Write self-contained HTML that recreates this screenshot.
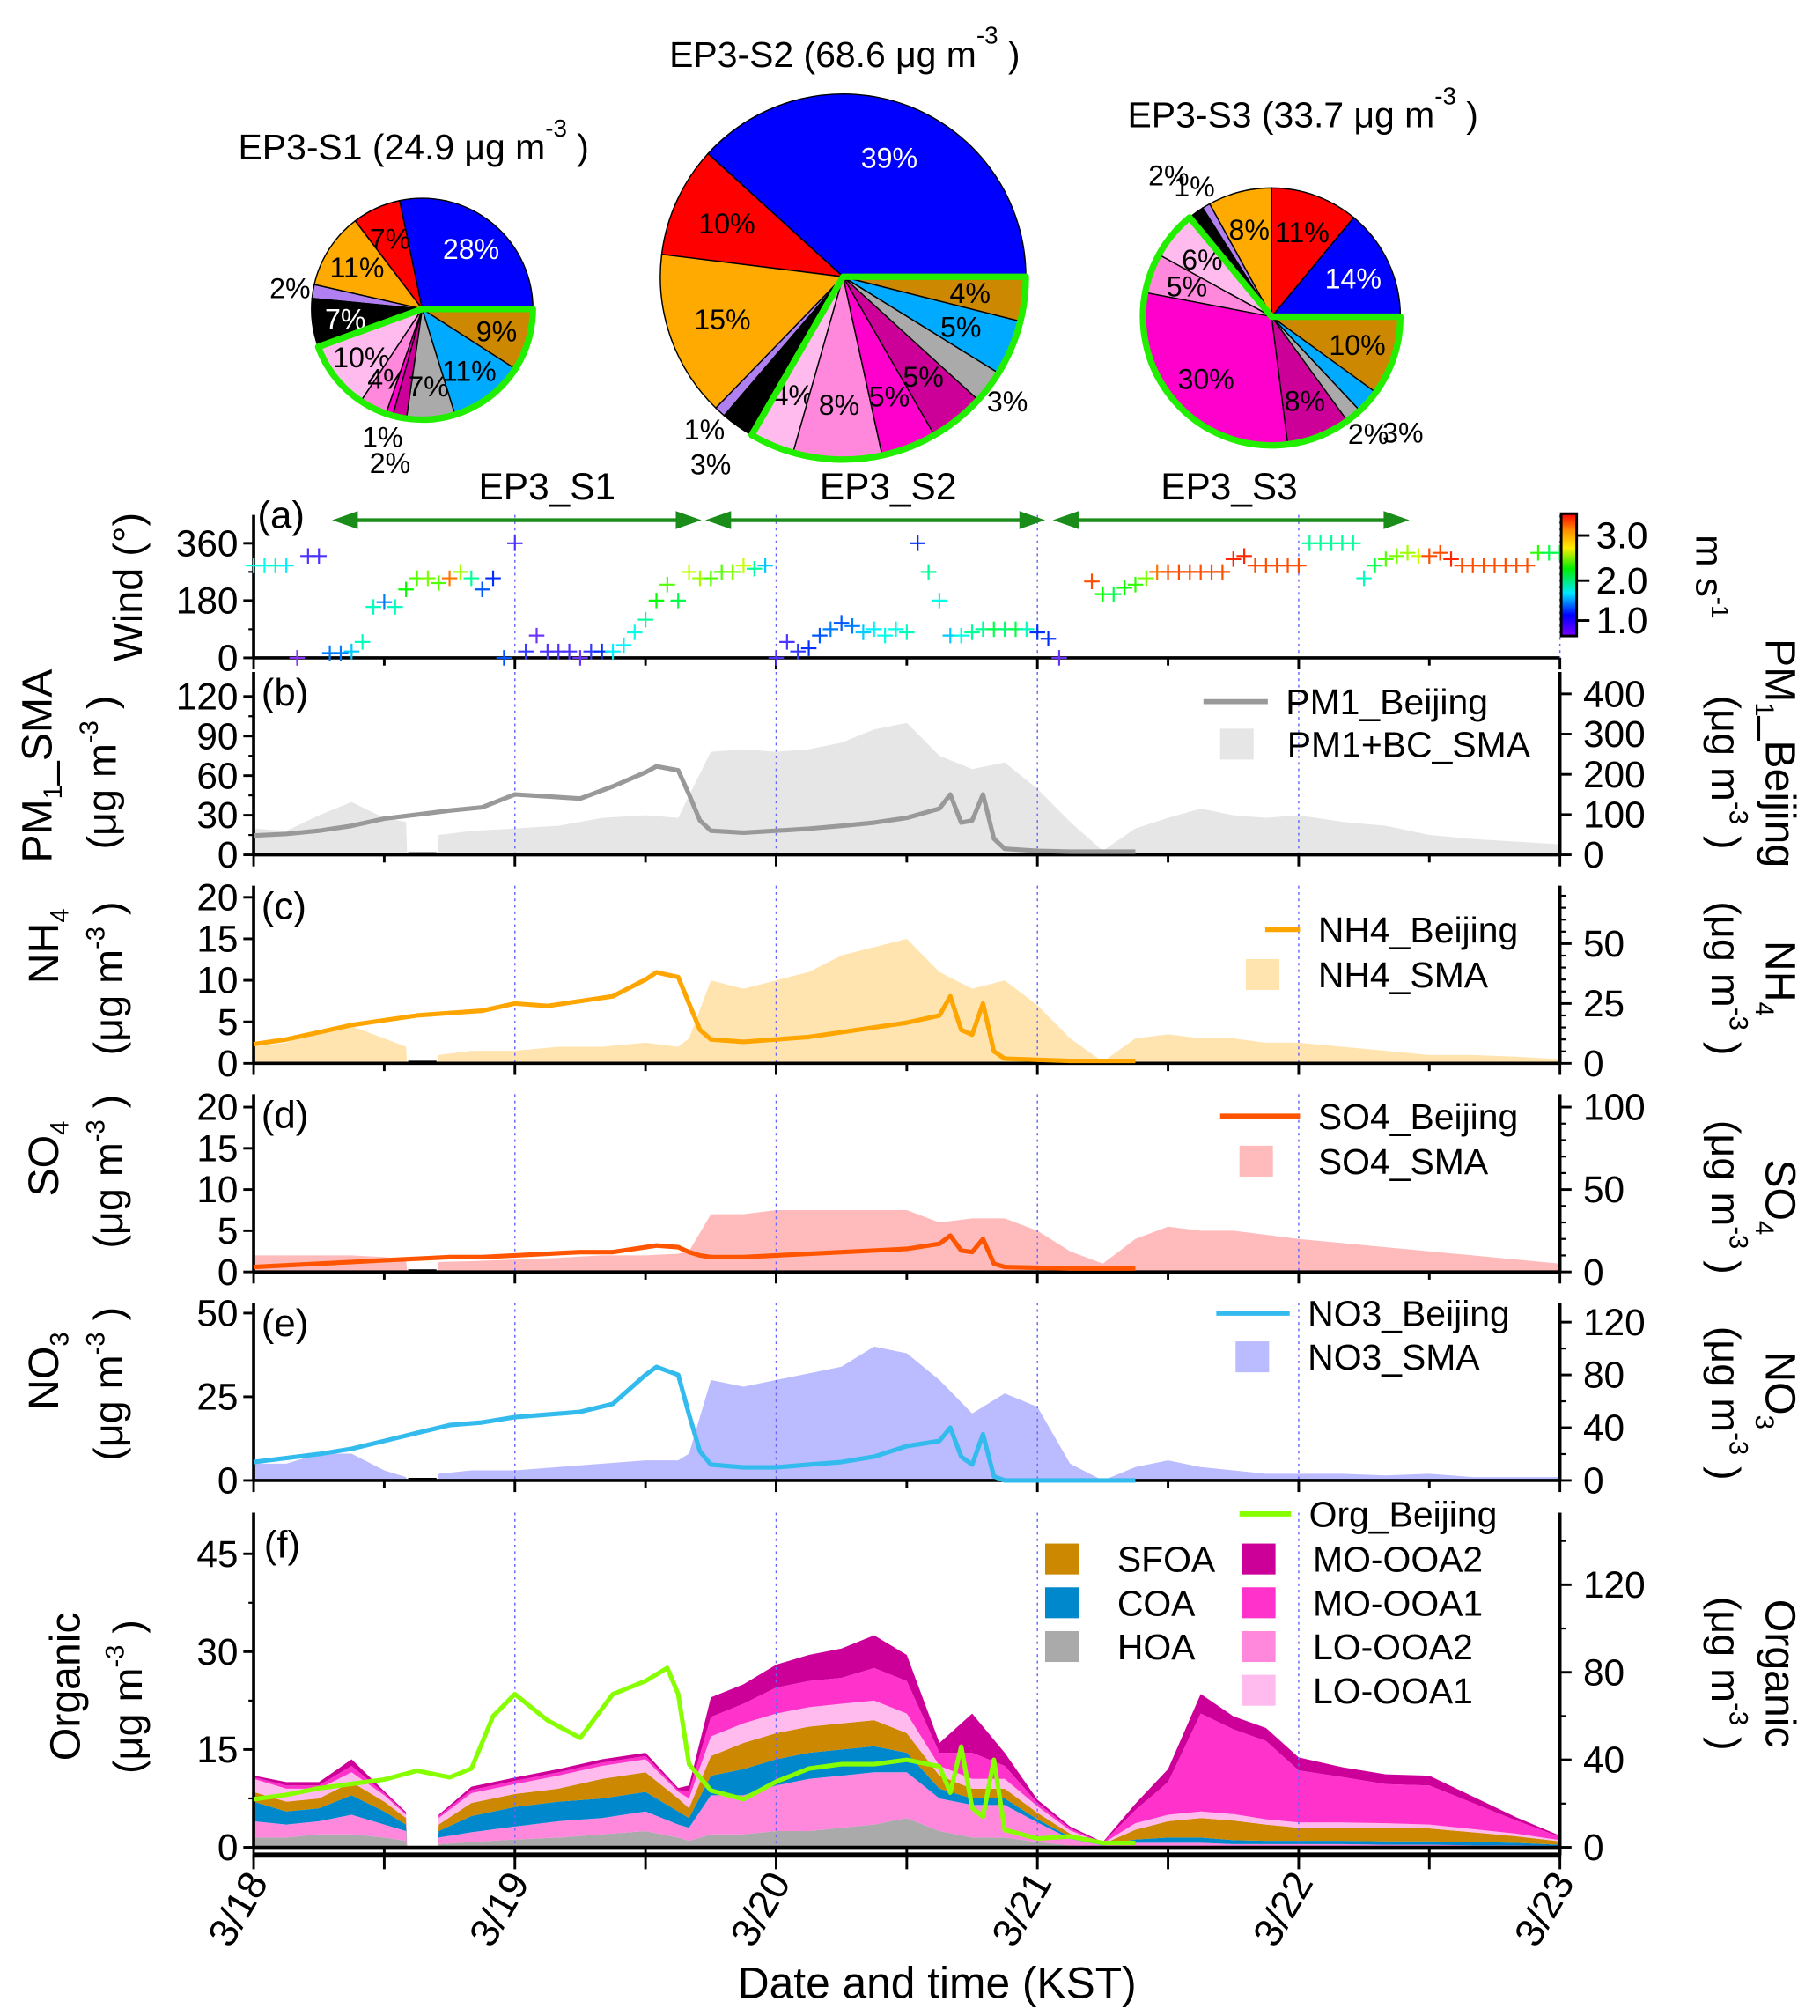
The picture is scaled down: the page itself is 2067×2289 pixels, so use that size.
<!DOCTYPE html>
<html><head><meta charset="utf-8">
<style>
html,body{margin:0;padding:0;background:#fff;}
svg{display:block;font-family:"Liberation Sans",Arial,sans-serif;}
</style></head>
<body>
<svg id="fig" width="2067" height="2289" viewBox="0 0 1414 1566" xmlns="http://www.w3.org/2000/svg">
<g id="pies"></g>
<g id="plots"></g>
<text x="728" y="1552" font-size="34" text-anchor="middle">Date and time (KST)</text>
</svg>
<script>
// ---------- PIE DATA ----------
const pieNames = ["EP3-S1","EP3-S2","EP3-S3"];
const pieTotals = ["24.9","68.6","33.7"];
const pieS1 = [28,7,11,2,7,10,4,1,2,7,11,9];
const pieS2 = [39,10,15,1,3,4,8,5,5,3,5,4];
const pieS3 = [14,11,8,1,2,6,5,30,8,2,3,10];
// ---------- TIME SERIES DATA (hours since 3/18 00:00) ----------
const smaHours = [0,3,6,9,12,14,14.1,16.9,17,20,24,28,32,36,39,40,42,45,48,51,54,57,60,63,66,69,72,75,78,81,84,87,90,93,96,100,104,108,112,116,120];
const pmSMA  = [20,18,30,40,28,25,0,0,15,18,20,22,28,30,28,45,78,80,78,80,85,95,100,75,65,70,50,25,3,20,28,35,30,28,30,25,22,15,12,10,8];
const nh4SMA = [2,2.5,4,4.5,3,2,0,0,1,1.5,1.5,2,2,2.5,2,3,10,9,10,11,13,14,15,11,9,10,7,3,0.2,3,3.5,3,3,2.5,2.5,2,1.5,1,1,0.8,0.5];
const so4SMA = [2,2,2,2,1.8,1.5,0,0,1.2,1.3,1.5,1.7,2,2,2.2,2.5,7,7,7.5,7.5,7.5,7.5,7.5,6,6.5,6.5,5,2.5,1,4,5.5,5,5,4.5,4,3.5,3,2.5,2,1.5,1];
const no3SMA = [5,5,8,8,3,1,0,0,2,3,3,4,5,6,6,8,30,28,30,32,34,40,38,30,20,26,22,5,0,4,6,4,3,2,2,2,1.5,2,1,1,1];
const orgHOA = [1.5,1.5,2,2,1.5,1,0,0,0.5,0.8,1.2,1.5,2,2.5,1.5,1,2,2,2.5,2.5,3,3.5,4.5,2.5,1.5,1.5,0.8,0.3,0.1,0.2,0.2,0.2,0.2,0.2,0.2,0.2,0.1,0.1,0.1,0.1,0.1];
const orgLO2 = [2.5,2,2,3,2,1.5,0,0,1,1.5,2,2.5,2.5,3,2,2,6,6,7,8,8,8,7,5,5,5,3,1,0.2,0.5,0.5,0.5,0.3,0.3,0.3,0.3,0.3,0.3,0.2,0.2,0.1];
const orgCOA = [3,2,2,3,2,1,0,0,1,2.5,3,3,3,3,2,1.5,3,4,4,4,4,4,3,1.5,1,1,0.5,0.3,0.1,0.5,0.8,0.8,0.6,0.5,0.5,0.5,0.5,0.5,0.5,0.4,0.2];
const orgSFOA= [1.5,1.5,1.5,2,1.5,1,0,0,1,2,2,2,3,3,2,1.5,3,4,4,4,4,4,3,2,1.5,1.5,1,0.5,0.1,1.5,2.5,3,3,2.5,2,2,2,2,1.5,1,0.5];
const orgLO1 = [2,2,1.5,1.5,1,0.5,0,0,1,1.5,1.5,2,2,2,1,1.5,3,3,3,3,3,3,3,1.5,1.5,1.5,1,0.5,0.1,1,1,1,1,0.8,0.8,0.8,0.8,0.6,0.5,0.4,0.2];
const orgMO1 = [0.3,0.5,0.5,1,0.3,0.2,0,0,0.3,0.5,0.5,0.5,0.5,0.5,0.3,1,3,3,4,4,4,5,5,2,4,2,0.5,0.3,0.1,2,5,15,13,12,8,7,6,6,4,2,0.5];
const orgMO2 = [0.2,0.5,0.5,1,0.3,0.2,0,0,0.2,0.5,0.5,0.5,0.5,0.5,0.3,1,3,3,3.5,4,4.5,5,4,1.5,6,2,0.5,0.3,0.1,1,2,3,2,2,2,1.5,1.5,1.5,1,0.5,0.2];
const bjHours = [0,3,6,9,12,15,18,21,24,27,30,33,36,37,39,40,41,42,45,48,51,54,57,60,63,64,65,66,67,68,69,72,75,78,81];
const pmBJ  = [48,52,60,72,90,100,110,118,150,145,140,170,205,220,210,150,85,60,55,60,65,72,80,92,115,150,80,85,150,40,15,10,8,8,8];
const nh4BJ = [8,10,13,16,18,20,21,22,25,24,26,28,35,38,36,25,14,10,9,10,11,13,15,17,20,28,14,12,25,5,2,1.5,1,1,1];
const so4BJ = [3,4,5,6,7,8,9,9,10,11,12,12,15,16,15,12,10,9,9,10,11,12,13,14,17,22,13,12,20,5,3,2.5,2,2,2];
const no3BJ = [14,17,20,24,30,36,42,44,48,50,52,58,80,86,80,50,22,12,10,10,12,14,18,26,30,40,18,12,35,3,0,0,0,0,0];
const orgHours = [0,3,6,9,12,15,18,20,22,24,27,30,33,36,38,39,40,42,45,48,51,54,57,60,63,64,65,66,67,68,69,72,75,78,81];
const orgBJ = [22,24,27,29,31,35,32,36,60,70,58,50,70,76,82,70,38,26,22,30,36,38,38,40,37,25,46,18,14,40,8,4,5,2,2];
const windHours = [0,1,2,3,4,5,6,7,8,9,10,11,12,13,14,15,16,17,18,19,20,21,22,23,24,25,26,27,28,29,30,31,32,33,34,35,36,37,38,39,40,41,42,43,44,45,46,47,48,49,50,51,52,53,54,55,56,57,58,59,60,61,62,63,64,65,66,67,68,69,70,71,72,73,74,77,78,79,80,81,82,83,84,85,86,87,88,89,90,91,92,93,94,95,96,97,98,99,100,101,102,103,104,105,106,107,108,109,110,111,112,113,114,115,116,117,118,119,120];
const windDir = [290,290,290,290,0,320,320,15,15,20,50,160,175,160,215,250,250,235,250,270,250,215,250,0,360,20,70,20,20,20,0,20,20,20,40,80,120,180,230,180,270,250,250,270,270,290,280,290,0,50,20,30,70,90,110,100,80,90,70,90,80,360,270,180,70,70,80,90,90,90,90,90,80,60,0,240,200,200,220,230,250,270,270,270,270,270,270,270,310,320,290,290,290,290,290,360,360,360,360,360,250,290,310,320,330,320,320,330,310,290,290,290,290,290,290,290,330,330,330];
const windSpd = [1.6,1.6,1.7,1.5,0.6,0.8,0.8,1.2,1.2,1.4,1.7,1.7,1.2,1.7,2.2,2.4,2.5,2.4,3.2,2.6,1.8,1.1,1.0,1.1,0.8,0.9,0.7,0.8,0.8,0.8,0.7,0.9,1.0,1.5,1.5,1.6,1.8,2.2,2.4,2.0,2.7,2.6,2.4,2.4,2.5,2.7,1.8,1.4,0.8,0.8,0.9,1.0,1.1,1.2,1.1,1.2,1.4,1.5,1.6,1.6,1.7,1.0,1.8,1.6,1.4,1.6,1.8,1.8,2.0,1.9,2.0,1.7,1.0,1.0,0.7,3.3,2.2,2.0,2.2,2.3,2.5,3.2,3.3,3.3,3.3,3.3,3.3,3.3,3.4,3.4,3.3,3.3,3.3,3.3,3.3,1.8,1.8,1.8,1.8,1.8,1.7,2.0,2.4,2.5,2.6,2.7,3.3,3.3,3.4,3.3,3.3,3.3,3.3,3.3,3.3,3.3,2.3,2.0,2.0];
const dayLabels = ["3/18","3/19","3/20","3/21","3/22","3/23"];

// ---------- helpers ----------
const NS="http://www.w3.org/2000/svg";
function mk(parent,tag,attrs,text){const e=document.createElementNS(NS,tag);for(const k in attrs)e.setAttribute(k,attrs[k]);if(text!==undefined)e.textContent=text;parent.appendChild(e);return e;}
const X0=197,X1=1212,HMAX=120;
const xS=h=>X0+(X1-X0)*h/HMAX;

// ---------- PIES ----------
const pieColors=["#0000ff","#ff0000","#ffaa00","#b080f0","#000000","#ffbbee","#ff88dd","#ff00cc","#cc0099","#aaaaaa","#00aaff","#cc8800"];
const piesG=document.getElementById('pies');
function drawPie(idx,vals,cx,cy,r,tx,ty){
  const g=mk(piesG,'g',{});
  
  
  const t=mk(g,'text',{x:tx,y:ty,'font-size':28});
  
  
  t.textContent=pieNames[idx]+" ("+pieTotals[idx]+" μg m";
  mk(t,'tspan',{dy:-18,'font-size':19},'-3');
  mk(t,'tspan',{dy:18},' )');
  const tot=vals.reduce((a,b)=>a+b,0);
  let a=0; const pt=(ang,rr)=>[cx+rr*Math.cos(ang),cy-rr*Math.sin(ang)];
  let orgStart=0; let prevSmall=false;
  vals.forEach((v,i)=>{
    const a2=a+2*Math.PI*v/tot;
    if(i===5) orgStart=a;
    const p1=pt(a,r),p2=pt(a2,r);const large=(a2-a)>Math.PI?1:0;
    const s=mk(g,'path',{d:`M${cx},${cy}L${p1[0]},${p1[1]}A${r},${r} 0 ${large} 0 ${p2[0]},${p2[1]}Z`,fill:pieColors[i],stroke:'#000','stroke-width':1});
    
    
    const mid=(a+a2)/2;
    let rr;
    if(v>=4){rr=0.7*r;prevSmall=false;}
    else{rr=prevSmall?r+36:r+18;prevSmall=!prevSmall;}
    const lp=pt(mid,rr);
    const lt=mk(g,'text',{x:lp[0],y:lp[1]+8,'font-size':22,'text-anchor':'middle',fill:(v>=4&&(i===0||i===4))?'#fff':'#000'},v+'%');
    
    
    a=a2;
  });
  const p1=pt(orgStart,r),p2=pt(2*Math.PI,r);const large=(2*Math.PI-orgStart)>Math.PI?1:0;
  const gr=mk(g,'path',{d:`M${cx},${cy}L${p1[0]},${p1[1]}A${r},${r} 0 ${large} 0 ${p2[0]},${p2[1]}Z`,fill:'none',stroke:'#22ee00','stroke-width':5,'stroke-linejoin':'round'});
  
  
}
drawPie(0,pieS1,328,240,86,185,124);
drawPie(1,pieS2,655,215,142,520,52);
drawPie(2,pieS3,988,246,100,876,99);

// ---------- PANELS ----------
const P=document.getElementById('plots');
function linePath(hrs,vals,y0,k){return hrs.map((h,i)=>(i?'L':'M')+xS(h).toFixed(1)+','+(y0-vals[i]*k).toFixed(1)).join('');}
function areaPath(hrs,lo,hi,y0,k){let d='M'+xS(hrs[0])+','+(y0-hi[0]*k);for(let i=1;i<hrs.length;i++)d+='L'+xS(hrs[i]).toFixed(1)+','+(y0-hi[i]*k).toFixed(1);for(let i=hrs.length-1;i>=0;i--)d+='L'+xS(hrs[i]).toFixed(1)+','+(y0-lo[i]*k).toFixed(1);return d+'Z';}
function frame(g,y0,top,leftTicks,kL,rightTicks,kR,lminor,rminor){
  for(let d=1;d<5;d++){mk(g,'line',{x1:xS(d*24),x2:xS(d*24),y1:top,y2:y0,stroke:'#6666ff','stroke-width':1,'stroke-dasharray':'2,3'});}
  mk(g,'line',{x1:X0,x2:X1,y1:y0,y2:y0,stroke:'#000','stroke-width':2.5});
  mk(g,'line',{x1:X0,x2:X0,y1:top,y2:y0,stroke:'#000','stroke-width':2.5});
  if(rightTicks) mk(g,'line',{x1:X1,x2:X1,y1:top,y2:y0,stroke:'#000','stroke-width':2.5});
  for(let h=0;h<=120;h+=12) mk(g,'line',{x1:xS(h),x2:xS(h),y1:y0,y2:y0+(h%24?6:9),stroke:'#000','stroke-width':2});
  leftTicks.forEach(v=>{const y=y0-v*kL;mk(g,'line',{x1:X0-8,x2:X0,y1:y,y2:y,stroke:'#000','stroke-width':2});
    const t=mk(g,'text',{x:X0-12,y:y+10,'font-size':29,'text-anchor':'end'},String(v));});
  if(lminor) for(let v=0;v<=leftTicks[leftTicks.length-1];v+=lminor) mk(g,'line',{x1:X0-4,x2:X0,y1:y0-v*kL,y2:y0-v*kL,stroke:'#000','stroke-width':1.5});
  if(rightTicks){rightTicks.forEach(v=>{const y=y0-v*kR;mk(g,'line',{x1:X1,x2:X1+9,y1:y,y2:y,stroke:'#000','stroke-width':2});
    const t=mk(g,'text',{x:X1+18,y:y+10,'font-size':29},String(v));});
    if(rminor) for(let v=0;v*kR<=y0-top;v+=rminor) mk(g,'line',{x1:X1,x2:X1+5,y1:y0-v*kR,y2:y0-v*kR,stroke:'#000','stroke-width':1.5});}
}
function vtext(g,x,y,txt,rot,size,name){const t=mk(g,'text',{x:x,y:y,'font-size':size||30,'text-anchor':'middle',transform:`rotate(${rot||-90} ${x} ${y})`});t.innerHTML=txt;return t;}
const UG='(μg m<tspan dy="-14" font-size="20">-3</tspan><tspan dy="14"> )</tspan>';
function legLine(g,x1,x2,y,col,txt){mk(g,'line',{x1:x1,x2:x2,y1:y,y2:y,stroke:col,'stroke-width':4});const t=mk(g,'text',{x:x2+14,y:y+10,'font-size':28},txt);}
function legBox(g,x,y,col,txt,tx){mk(g,'rect',{x:x,y:y-12,width:26,height:24,fill:col});const t=mk(g,'text',{x:tx,y:y+10,'font-size':28},txt);}
function plabel(g,x,y,s){const t=mk(g,'text',{x:x,y:y,'font-size':30},s);}

// (a) wind
(function(){
  const g=mk(P,'g',{});
  const y0=511,k=89/360;
  frame(g,y0,400,[0,180,360],k,null,0,90,0);
  mk(g,'line',{x1:X1,x2:X1,y1:400,y2:y0,stroke:'#6666ff','stroke-width':1,'stroke-dasharray':'2,3'});
  const col=s=>{let t=Math.max(0,Math.min(1,(s-0.5)/3));return `hsl(${(1-t)*275},100%,${t<0.15?60:50}%)`;};
  windHours.forEach((h,i)=>{const x=xS(h),y=y0-windDir[i]*k;
    const p=mk(g,'path',{d:`M${x-6},${y}H${x+6}M${x},${y-6}V${y+6}`,stroke:col(windSpd[i]),'stroke-width':1.5});
    
    });
  plabel(g,200,410,'(a)');
  vtext(g,110,456,'Wind (°)',-90,32,'wind-axis-title');
  const eps=[[258,545,'EP3_S1',425],[548,812,'EP3_S2',690],[818,1095,'EP3_S3',955]];
  eps.forEach(e=>{const a=mk(g,'g',{});
    mk(a,'line',{x1:e[0]+14,x2:e[1]-14,y1:404,y2:404,stroke:'#1a8c1a','stroke-width':3});
    mk(a,'path',{d:`M${e[0]},404l20,-7v14z M${e[1]},404l-20,-7v14z`,fill:'#1a8c1a'});
    mk(a,'text',{x:e[3],y:388,'font-size':29,'text-anchor':'middle'},e[2]);});
  const cb=mk(g,'g',{});
  const defs=mk(cb,'defs',{});const lg=mk(defs,'linearGradient',{id:'rb',x1:0,y1:1,x2:0,y2:0});
  [[0,'#7a00ff'],[0.17,'#0000ff'],[0.35,'#00e8ff'],[0.55,'#00ee00'],[0.72,'#ffee00'],[0.87,'#ff8800'],[1,'#ff0000']].forEach(s=>mk(lg,'stop',{offset:s[0],'stop-color':s[1]}));
  mk(cb,'rect',{x:1213,y:399,width:12,height:95,fill:'url(#rb)',stroke:'#000','stroke-width':2});
  [[3.0,416],[2.0,451],[1.0,482]].forEach(t=>{mk(cb,'line',{x1:1225,x2:1235,y1:t[1],y2:t[1],stroke:'#000','stroke-width':2});mk(cb,'text',{x:1240,y:t[1]+10,'font-size':29},t[0].toFixed(1));});
  vtext(cb,1318,448,'m s<tspan dy="-12" font-size="19">-1</tspan>',90,30,'colorbar-title');
})();

function chemPanel(o){
  const g=mk(P,'g',{});
  mk(g,'path',{d:areaPath(smaHours,smaHours.map(()=>0),o.sma,o.y0,o.kL),fill:o.fill});
  frame(g,o.y0,o.top,o.lt,o.kL,o.rt,o.kR,o.lmin,o.rmin);
  const ln=mk(g,'path',{d:linePath(bjHours,o.bj,o.y0,o.kR),fill:'none',stroke:o.line,'stroke-width':3.5,'stroke-linejoin':'round'});
  
  
  mk(g,'line',{x1:xS(14.2),x2:xS(16.8),y1:o.y0-1,y2:o.y0-1,stroke:'#000','stroke-width':2});
  plabel(g,203,o.top+26,o.lab);
  return g;
}
let g=chemPanel({name:'panel-b-pm1',y0:664,top:522,sma:pmSMA,bj:pmBJ,kL:123/120,kR:125/400,lt:[0,30,60,90,120],rt:[0,100,200,300,400],lmin:15,rmin:0,fill:'#e6e6e6',line:'#999999',lab:'(b)'});
legLine(g,935,985,545,'#999999','PM1_Beijing');legBox(g,948,578,'#e6e6e6','PM1+BC_SMA',1000);
vtext(g,40,595,'PM<tspan dy="8" font-size="20">1</tspan><tspan dy="-8">_SMA</tspan>',-90,33);vtext(g,90,600,UG,-90,32);
vtext(g,1372,585,'PM<tspan dy="8" font-size="20">1</tspan><tspan dy="-8">_Beijing</tspan>',90,33);vtext(g,1330,600,UG,90,32);
g=chemPanel({name:'panel-c-nh4',y0:826,top:688,sma:nh4SMA,bj:nh4BJ,kL:6.45,kR:1.86,lt:[0,5,10,15,20],rt:[0,25,50],lmin:0,rmin:5,fill:'#ffe4b0',line:'#ffa500',lab:'(c)'});
legLine(g,983,1010,722,'#ffa500','NH4_Beijing');legBox(g,968,757,'#ffe4b0','NH4_SMA',1024);
vtext(g,45,735,'NH<tspan dy="8" font-size="20">4</tspan>',-90,33);vtext(g,95,760,UG,-90,32);
vtext(g,1372,760,'NH<tspan dy="8" font-size="20">4</tspan>',90,33);vtext(g,1330,760,UG,90,32);
g=chemPanel({name:'panel-d-so4',y0:988,top:850,sma:so4SMA,bj:so4BJ,kL:6.4,kR:1.28,lt:[0,5,10,15,20],rt:[0,50,100],lmin:0,rmin:10,fill:'#ffbbbb',line:'#ff5500',lab:'(d)'});
legLine(g,948,1010,867,'#ff5500','SO4_Beijing');legBox(g,963,902,'#ffbbbb','SO4_SMA',1024);
vtext(g,45,900,'SO<tspan dy="8" font-size="20">4</tspan>',-90,33);vtext(g,95,910,UG,-90,32);
vtext(g,1372,930,'SO<tspan dy="8" font-size="20">4</tspan>',90,33);vtext(g,1330,930,UG,90,32);
g=chemPanel({name:'panel-e-no3',y0:1150,top:1012,sma:no3SMA,bj:no3BJ,kL:2.6,kR:1.025,lt:[0,25,50],rt:[0,40,80,120],lmin:0,rmin:20,fill:'#bbbbff',line:'#33bbee',lab:'(e)'});
legLine(g,945,1002,1020,'#33bbee','NO3_Beijing');legBox(g,960,1054,'#bbbbff','NO3_SMA',1016);
vtext(g,45,1065,'NO<tspan dy="8" font-size="20">3</tspan>',-90,33);vtext(g,95,1075,UG,-90,32);
vtext(g,1372,1080,'NO<tspan dy="8" font-size="20">3</tspan>',90,33);vtext(g,1330,1090,UG,90,32);
(function(){
  const g=mk(P,'g',{});
  const y0=1435,kL=76/15,kR=68/40;
  const comps=[[orgHOA,'#aaaaaa','HOA'],[orgLO2,'#ff88dd','LO-OOA2'],[orgCOA,'#0088cc','COA'],[orgSFOA,'#cc8800','SFOA'],[orgLO1,'#ffbbee','LO-OOA1'],[orgMO1,'#ff33cc','MO-OOA1'],[orgMO2,'#cc0099','MO-OOA2']];
  let lo=smaHours.map(()=>0);
  comps.forEach(c=>{const hi=lo.map((v,i)=>v+c[0][i]);
    const a=mk(g,'path',{d:areaPath(smaHours,lo,hi,y0,kL),fill:c[1]});
    
    
    lo=hi;});
  frame(g,y0,1175,[0,15,30,45],kL,[0,40,80,120],kR,7.5,20);
  mk(g,'line',{x1:X0,x2:X1,y1:1441,y2:1441,stroke:'#000','stroke-width':4});
  for(let h=0;h<=120;h+=12) mk(g,'line',{x1:xS(h),x2:xS(h),y1:1441,y2:1452,stroke:'#000','stroke-width':2});
  mk(g,'line',{x1:X1,x2:X1,y1:1175,y2:1441,stroke:'#000','stroke-width':2.5});
  const ln=mk(g,'path',{d:linePath(orgHours,orgBJ,y0,kR),fill:'none',stroke:'#88ff00','stroke-width':3.5,'stroke-linejoin':'round'});
  
  
  plabel(g,205,1210,'(f)');
  legLine(g,963,1003,1176,'#88ff00','Org_Beijing');
  legBox(g,812,1211,'#cc8800','SFOA',868);legBox(g,812,1245,'#0088cc','COA',868);legBox(g,812,1279,'#aaaaaa','HOA',868);
  legBox(g,965,1211,'#cc0099','MO-OOA2',1020);legBox(g,965,1245,'#ff33cc','MO-OOA1',1020);legBox(g,965,1279,'#ff88dd','LO-OOA2',1020);legBox(g,965,1313,'#ffbbee','LO-OOA1',1020);
  vtext(g,62,1310,'Organic',-90,33);vtext(g,110,1318,UG,-90,32);
  vtext(g,1372,1300,'Organic',90,33);vtext(g,1330,1300,UG,90,32);
  dayLabels.forEach((d,i)=>{const x=xS(i*24)+12,y=1462;
    const t=mk(g,'text',{x:x,y:y,'font-size':31,'text-anchor':'end',transform:`rotate(-60 ${x} ${y})`},d);
    
    });
})();
</script>
</body></html>
